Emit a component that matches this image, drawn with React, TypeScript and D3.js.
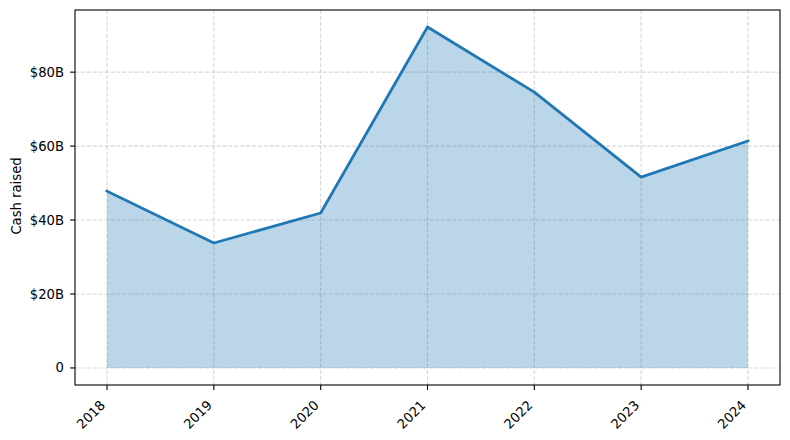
import React from 'react';
import * as d3 from 'd3';

const years: string[] = ['2018', '2019', '2020', '2021', '2022', '2023', '2024'];
const cashRaised: number[] = [47.8, 33.8, 41.9, 92.2, 74.6, 51.6, 61.4];
const yTickValues: number[] = [0, 20, 40, 60, 80];
const yTickLabels: string[] = ['0', '$20B', '$40B', '$60B', '$80B'];
const yAxisLabel = 'Cash raised';

const W = 790;
const H = 440;
const left = 75;
const right = 780;
const top = 10;
const bottom = 385;
const FONT = 'DejaVu Sans, sans-serif';
const FS = 13.2;
const BLUE = '#1f77b4';

export default function App() {
  const n = years.length;
  const x = d3.scaleLinear().domain([-0.05 * (n - 1), (n - 1) * 1.05]).range([left, right]);
  const yMin = Math.min(0, d3.min(cashRaised) as number);
  const yMax = d3.max(cashRaised) as number;
  const pad = (yMax - yMin) * 0.05;
  const y = d3.scaleLinear().domain([yMin - pad, yMax + pad]).range([bottom, top]);

  const pts: [number, number][] = cashRaised.map((v, i) => [i, v]);
  const area = d3
    .area<[number, number]>()
    .x((d) => x(d[0]))
    .y0(() => y(0))
    .y1((d) => y(d[1]));
  const line = d3
    .line<[number, number]>()
    .x((d) => x(d[0]))
    .y((d) => y(d[1]));

  const gridStyle = { stroke: '#b0b0b0', strokeOpacity: 0.5, strokeWidth: 1.1, strokeDasharray: '4.1,1.8' };
  const tickLen = 4.9;

  return (
    <svg width={W} height={H} style={{ position: 'absolute', left: 0, top: 0, background: '#fff' }}>
      <rect x={0} y={0} width={W} height={H} fill="#fff" />
      {/* grid */}
      {yTickValues.map((v) => (
        <line key={'gy' + v} x1={left} x2={right} y1={y(v)} y2={y(v)} {...gridStyle} />
      ))}
      {years.map((_, i) => (
        <line key={'gx' + i} x1={x(i)} x2={x(i)} y1={top} y2={bottom} {...gridStyle} />
      ))}
      {/* area + line */}
      <path d={area(pts) as string} fill={BLUE} fillOpacity={0.3} stroke="none" />
      <path d={line(pts) as string} fill="none" stroke={BLUE} strokeWidth={2.78} strokeLinejoin="round" strokeLinecap="square" />
      {/* frame */}
      <rect x={left} y={top} width={right - left} height={bottom - top} fill="none" stroke="#000" strokeWidth={1.1} />
      {/* y ticks */}
      {yTickValues.map((v, i) => (
        <g key={'yt' + v}>
          <line x1={left - tickLen} x2={left} y1={y(v)} y2={y(v)} stroke="#000" strokeWidth={1.1} />
          <text
            x={left - 11}
            y={y(v)}
            textAnchor="end"
            dominantBaseline="central"
            fontFamily={FONT}
            fontSize={FS}
            fill="#000"
          >
            {yTickLabels[i]}
          </text>
        </g>
      ))}
      {/* x ticks */}
      {years.map((yr, i) => {
        const tx = x(i);
        const ax = tx - 1;
        const ay = 406;
        return (
          <g key={'xt' + yr}>
            <line x1={tx} x2={tx} y1={bottom} y2={bottom + tickLen} stroke="#000" strokeWidth={1.1} />
            <text
              x={ax}
              y={ay}
              textAnchor="end"
              transform={`rotate(-45, ${ax}, ${ay})`}
              fontFamily={FONT}
              fontSize={FS}
              fill="#000"
            >
              {yr}
            </text>
          </g>
        );
      })}
      {/* y label */}
      <text
        x={0}
        y={0}
        transform={`translate(21, 196) rotate(-90)`}
        textAnchor="middle"
        fontFamily={FONT}
        fontSize={FS}
        fill="#000"
      >
        {yAxisLabel}
      </text>
    </svg>
  );
}
